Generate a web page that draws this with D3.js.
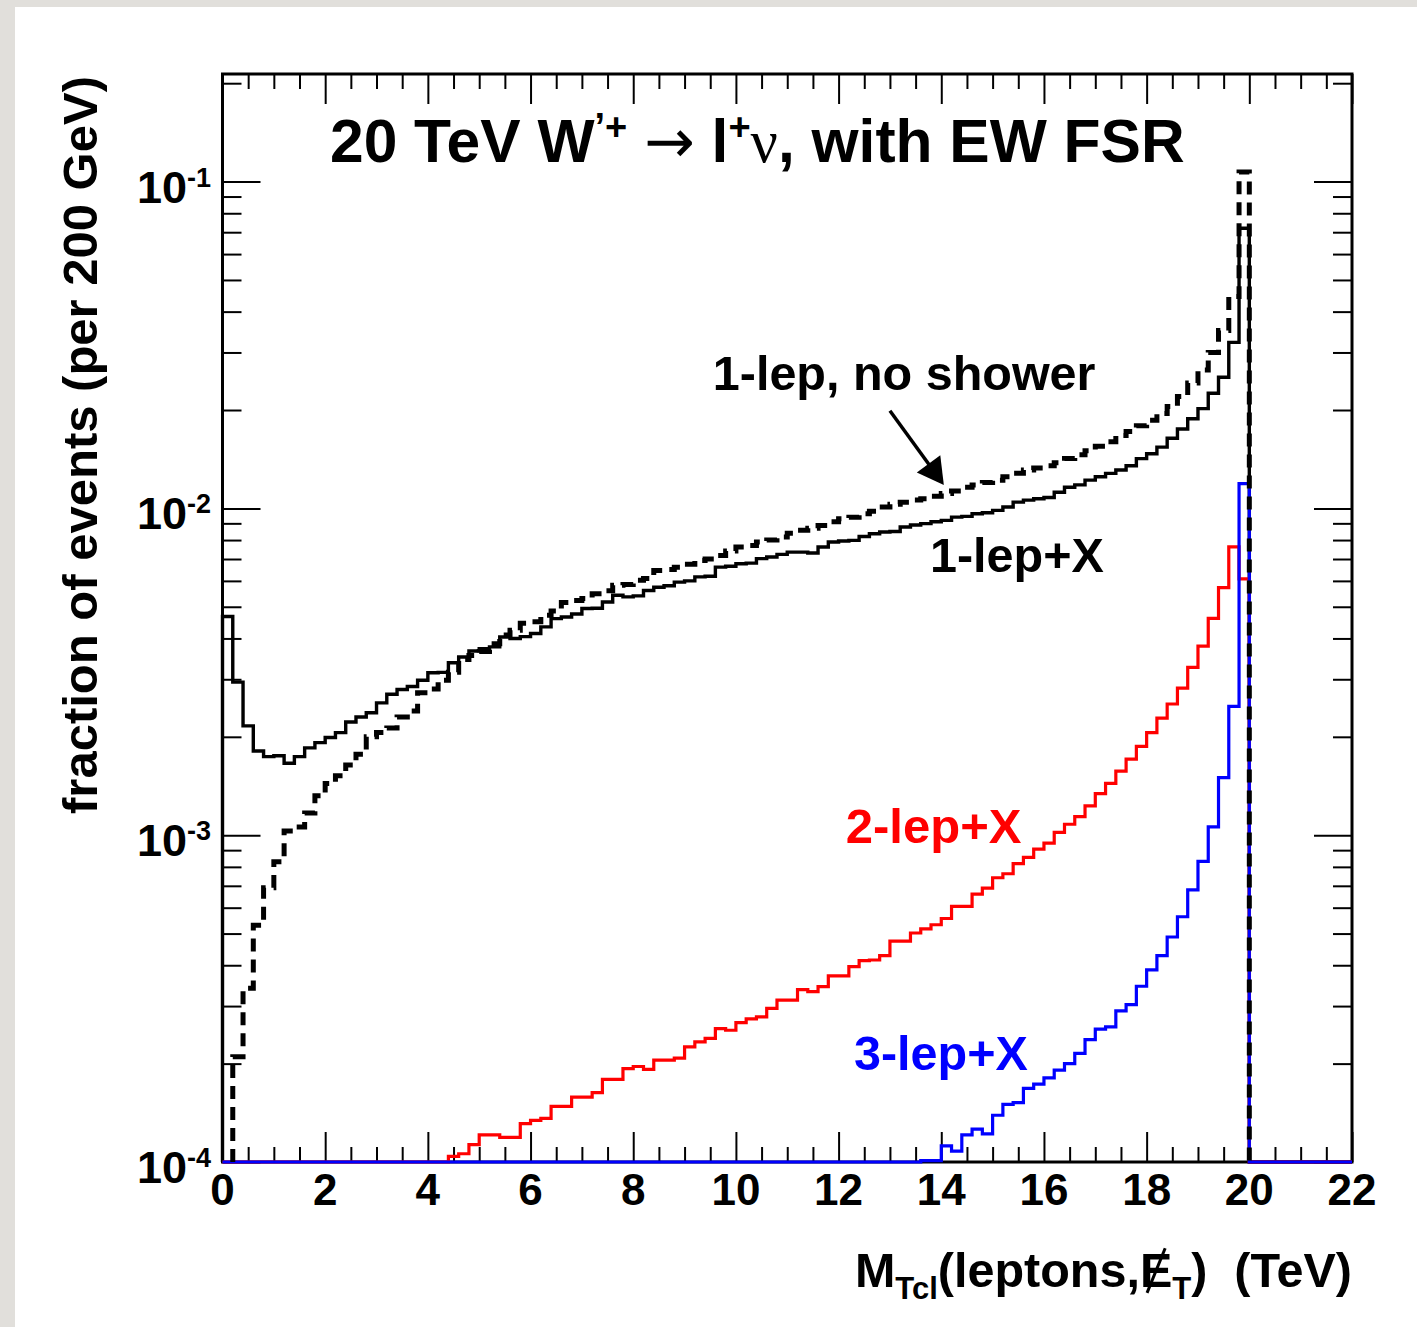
<!DOCTYPE html>
<html>
<head>
<meta charset="utf-8">
<script src="https://cdn.jsdelivr.net/npm/d3@7"></script>
<style>
  html, body { margin: 0; padding: 0; background: #ffffff; }
  svg { display: block; }
  text { font-family: "Liberation Sans", Arial, Helvetica, sans-serif; font-weight: bold; }
</style>
</head>
<body>
<svg id="chart" width="1417" height="1327"></svg>
<script>
// Binning of the transverse cluster mass histograms (TeV), 200 GeV per bin
const binLow = 0;
const binHigh = 22;
const binCount = 110;

// Axis ticks
const xMajorTicks = [0, 2, 4, 6, 8, 10, 12, 14, 16, 18, 20, 22];
const yDecadeExponents = [-1, -2, -3, -4];

// Fraction of events per bin: 1 lepton + anything (solid black)
const oneLepX = [
  4.67e-3, 2.94e-3, 2.16e-3, 1.81e-3, 1.74e-3, 1.75e-3, 1.66e-3, 1.74e-3, 1.85e-3, 1.92e-3,
  1.99e-3, 2.06e-3, 2.22e-3, 2.30e-3, 2.37e-3, 2.54e-3, 2.70e-3, 2.79e-3, 2.85e-3, 2.98e-3,
  3.14e-3, 3.15e-3, 3.37e-3, 3.51e-3, 3.66e-3, 3.72e-3, 3.77e-3, 4.04e-3, 4.00e-3, 4.05e-3,
  4.14e-3, 4.34e-3, 4.60e-3, 4.65e-3, 4.75e-3, 4.94e-3, 4.95e-3, 5.17e-3, 5.42e-3, 5.36e-3,
  5.40e-3, 5.61e-3, 5.74e-3, 5.80e-3, 5.95e-3, 6.00e-3, 6.17e-3, 6.20e-3, 6.61e-3, 6.65e-3,
  6.77e-3, 6.80e-3, 7.02e-3, 7.10e-3, 7.23e-3, 7.35e-3, 7.35e-3, 7.30e-3, 7.62e-3, 7.89e-3,
  7.95e-3, 7.98e-3, 8.20e-3, 8.36e-3, 8.47e-3, 8.50e-3, 8.77e-3, 8.90e-3, 8.98e-3, 9.10e-3,
  9.19e-3, 9.40e-3, 9.45e-3, 9.63e-3, 9.70e-3, 9.86e-3, 1.01e-2, 1.045e-2, 1.06e-2, 1.07e-2,
  1.08e-2, 1.12e-2, 1.16e-2, 1.18e-2, 1.22e-2, 1.25e-2, 1.28e-2, 1.31e-2, 1.35e-2, 1.42e-2,
  1.47e-2, 1.54e-2, 1.64e-2, 1.75e-2, 1.88e-2, 2.02e-2, 2.25e-2, 2.52e-2, 3.22e-2, 7.20e-2,
  0, 0, 0, 0, 0, 0, 0, 0, 0, 0
];

// 1 lepton, no shower (dashed black)
const oneLepNoShower = [
  0, 2.1e-4, 3.4e-4, 5.3e-4, 6.9e-4, 8.3e-4, 1.03e-3, 1.06e-3, 1.17e-3, 1.32e-3,
  1.44e-3, 1.52e-3, 1.64e-3, 1.77e-3, 2.00e-3, 2.06e-3, 2.13e-3, 2.30e-3, 2.40e-3, 2.73e-3,
  2.80e-3, 2.98e-3, 3.15e-3, 3.45e-3, 3.55e-3, 3.65e-3, 3.85e-3, 4.10e-3, 4.24e-3, 4.45e-3,
  4.50e-3, 4.71e-3, 4.85e-3, 5.15e-3, 5.23e-3, 5.30e-3, 5.48e-3, 5.60e-3, 5.82e-3, 5.85e-3,
  6.03e-3, 6.10e-3, 6.46e-3, 6.50e-3, 6.61e-3, 6.75e-3, 6.93e-3, 7.00e-3, 7.18e-3, 7.40e-3,
  7.62e-3, 7.70e-3, 7.89e-3, 8.00e-3, 8.17e-3, 8.40e-3, 8.57e-3, 8.70e-3, 8.87e-3, 9.10e-3,
  9.30e-3, 9.40e-3, 9.63e-3, 9.80e-3, 1.01e-2, 1.03e-2, 1.045e-2, 1.06e-2, 1.07e-2, 1.09e-2,
  1.11e-2, 1.13e-2, 1.16e-2, 1.18e-2, 1.20e-2, 1.22e-2, 1.25e-2, 1.28e-2, 1.31e-2, 1.33e-2,
  1.35e-2, 1.38e-2, 1.42e-2, 1.46e-2, 1.50e-2, 1.55e-2, 1.60e-2, 1.67e-2, 1.72e-2, 1.79e-2,
  1.86e-2, 1.95e-2, 2.05e-2, 2.20e-2, 2.42e-2, 2.65e-2, 3.00e-2, 3.50e-2, 4.45e-2, 1.07e-1,
  0, 0, 0, 0, 0, 0, 0, 0, 0, 0
];

// 2 leptons + anything (red)
const twoLepX = [
  0, 0, 0, 0, 0, 0, 0, 0, 0, 0,
  0, 0, 0, 0, 0, 0, 0, 0, 0, 0,
  0, 0, 1.04e-4, 1.06e-4, 1.13e-4, 1.21e-4, 1.21e-4, 1.19e-4, 1.19e-4, 1.31e-4,
  1.34e-4, 1.36e-4, 1.48e-4, 1.48e-4, 1.58e-4, 1.58e-4, 1.63e-4, 1.79e-4, 1.79e-4, 1.93e-4,
  1.96e-4, 1.92e-4, 2.05e-4, 2.05e-4, 2.08e-4, 2.25e-4, 2.33e-4, 2.39e-4, 2.56e-4, 2.53e-4,
  2.67e-4, 2.74e-4, 2.78e-4, 2.95e-4, 3.13e-4, 3.13e-4, 3.37e-4, 3.32e-4, 3.44e-4, 3.71e-4,
  3.71e-4, 3.96e-4, 4.13e-4, 4.15e-4, 4.28e-4, 4.74e-4, 4.74e-4, 5.02e-4, 5.17e-4, 5.32e-4,
  5.56e-4, 6.06e-4, 6.06e-4, 6.60e-4, 6.89e-4, 7.41e-4, 7.62e-4, 8.19e-4, 8.55e-4, 9.06e-4,
  9.46e-4, 1.02e-3, 1.08e-3, 1.14e-3, 1.23e-3, 1.34e-3, 1.44e-3, 1.57e-3, 1.71e-3, 1.87e-3,
  2.06e-3, 2.28e-3, 2.52e-3, 2.82e-3, 3.26e-3, 3.79e-3, 4.61e-3, 5.72e-3, 7.63e-3, 6.09e-3,
  0, 0, 0, 0, 0, 0, 0, 0, 0, 0
];

// 3 leptons + anything (blue)
const threeLepX = [
  0, 0, 0, 0, 0, 0, 0, 0, 0, 0,
  0, 0, 0, 0, 0, 0, 0, 0, 0, 0,
  0, 0, 0, 0, 0, 0, 0, 0, 0, 0,
  0, 0, 0, 0, 0, 0, 0, 0, 0, 0,
  0, 0, 0, 0, 0, 0, 0, 0, 0, 0,
  0, 0, 0, 0, 0, 0, 0, 0, 0, 0,
  0, 0, 0, 0, 0, 0, 0, 0, 1.01e-4, 1.01e-4,
  1.12e-4, 1.08e-4, 1.21e-4, 1.26e-4, 1.22e-4, 1.39e-4, 1.50e-4, 1.52e-4, 1.68e-4, 1.73e-4,
  1.81e-4, 1.91e-4, 2.00e-4, 2.15e-4, 2.37e-4, 2.55e-4, 2.59e-4, 2.90e-4, 3.03e-4, 3.45e-4,
  3.87e-4, 4.28e-4, 4.88e-4, 5.63e-4, 6.80e-4, 8.31e-4, 1.06e-3, 1.50e-3, 2.48e-3, 1.19e-2,
  0, 0, 0, 0, 0, 0, 0, 0, 0, 0
];

const svg = d3.select('#chart');
const W = 1417, H = 1327;

// Page: grey surround with a white sheet
svg.append('rect').attr('width', W).attr('height', H).attr('fill', '#e1dfdb');
svg.append('rect').attr('x', 15).attr('y', 7).attr('width', W - 15).attr('height', H - 7).attr('fill', '#ffffff');

const frame = { left: 222.5, right: 1352, top: 74, bottom: 1162 };
const yMin = 1e-4, yMax = 0.2134;

const x = d3.scaleLinear().domain([binLow, binHigh]).range([frame.left, frame.right]);
const y = d3.scaleLog().domain([yMin, yMax]).range([frame.bottom, frame.top]);
const binW = (binHigh - binLow) / binCount;

// Frame
svg.append('rect')
  .attr('x', frame.left).attr('y', frame.top)
  .attr('width', frame.right - frame.left).attr('height', frame.bottom - frame.top)
  .attr('fill', 'none').attr('stroke', '#000').attr('stroke-width', 3);

// Tick helpers
const xMinorTicks = d3.range(binLow, binHigh + 0.001, 0.5).filter(v => Math.abs(v / 2 - Math.round(v / 2)) > 1e-6);
const yMajorTicks = yDecadeExponents.map(e => Math.pow(10, e));
const yMinorTicks = [];
[-4, -3, -2, -1].forEach(e => {
  for (let k = 2; k <= 9; k++) {
    const v = k * Math.pow(10, e);
    if (v <= yMax) yMinorTicks.push(v);
  }
});

function drawAxis(axis, transform) {
  const g = svg.append('g').attr('transform', transform).call(axis);
  g.select('.domain').remove();
  g.selectAll('.tick line').attr('stroke', '#000').attr('stroke-width', 2);
  g.selectAll('.tick text').remove();
  return g;
}

drawAxis(d3.axisBottom(x).tickValues(xMajorTicks).tickSize(-30), `translate(0,${frame.bottom})`);
drawAxis(d3.axisBottom(x).tickValues(xMinorTicks).tickSize(-15), `translate(0,${frame.bottom})`);
drawAxis(d3.axisTop(x).tickValues(xMajorTicks).tickSize(-30), `translate(0,${frame.top})`);
drawAxis(d3.axisTop(x).tickValues(xMinorTicks).tickSize(-15), `translate(0,${frame.top})`);
drawAxis(d3.axisLeft(y).tickValues(yMajorTicks).tickSize(-38), `translate(${frame.left},0)`);
drawAxis(d3.axisLeft(y).tickValues(yMinorTicks).tickSize(-19), `translate(${frame.left},0)`);
drawAxis(d3.axisRight(y).tickValues(yMajorTicks).tickSize(-38), `translate(${frame.right},0)`);
drawAxis(d3.axisRight(y).tickValues(yMinorTicks).tickSize(-19), `translate(${frame.right},0)`);

// X tick labels
svg.append('g').selectAll('text').data(xMajorTicks).join('text')
  .attr('x', d => x(d)).attr('y', 1205)
  .attr('text-anchor', 'middle').attr('font-size', 44).attr('fill', '#000')
  .text(d => d);

// Y tick labels 10^n
yDecadeExponents.forEach(e => {
  const t = svg.append('text')
    .attr('x', 211).attr('y', y(Math.pow(10, e)) + 21)
    .attr('text-anchor', 'end').attr('font-size', 45).attr('fill', '#000');
  t.append('tspan').text('10');
  t.append('tspan').attr('font-size', 27).attr('dy', -16).text('-' + (-e));
});

// Histogram outline as steps; empty bins sit on the lower edge of the frame
function stepPath(values, trim) {
  let first = 0, last = values.length - 1;
  if (trim) {
    while (first < values.length && !(values[first] > 0)) first++;
    while (last >= 0 && !(values[last] > 0)) last--;
  }
  const yv = v => (v > yMin ? y(v) : y(yMin));
  let p = `M${x(binLow + first * binW)},${y(yMin)}`;
  for (let i = first; i <= last; i++) {
    const x0 = x(binLow + i * binW), x1 = x(binLow + (i + 1) * binW);
    p += `L${x0},${yv(values[i])}L${x1},${yv(values[i])}`;
  }
  p += `L${x(binLow + (last + 1) * binW)},${y(yMin)}`;
  return p;
}

const series = [
  { values: oneLepX, color: '#000000', width: 3.4, dash: null, trim: false },
  { values: twoLepX, color: '#ff0000', width: 3.2, dash: null, trim: false },
  { values: threeLepX, color: '#0000ff', width: 3.2, dash: null, trim: false },
  { values: oneLepNoShower, color: '#000000', width: 5, dash: '13,8', trim: true }
];

series.forEach(s => {
  svg.append('path')
    .attr('d', stepPath(s.values, s.trim))
    .attr('fill', 'none')
    .attr('stroke', s.color)
    .attr('stroke-width', s.width)
    .attr('stroke-linejoin', 'miter')
    .attr('stroke-dasharray', s.dash);
});

// Title
const serif = '"Liberation Serif", "DejaVu Serif", "Times New Roman", serif';
const title = svg.append('text').attr('x', 330).attr('y', 162).attr('font-size', 60.5).attr('fill', '#000');
title.append('tspan').text('20 TeV W');
title.append('tspan').attr('font-size', 38).attr('dy', -22).text('\u2019+');
title.append('tspan').attr('dy', 22).text('\u00a0');
title.append('tspan').attr('font-family', '"DejaVu Sans", sans-serif').attr('font-weight', 'normal').text('\u2192');
title.append('tspan').text('\u00a0l');
title.append('tspan').attr('font-size', 38).attr('dy', -22).text('+');
title.append('tspan').attr('dy', 22).attr('font-family', serif).attr('font-weight', 'normal').text('\u03bd');
title.append('tspan').text(', with EW FSR');

// Curve annotations
svg.append('text').attr('x', x(9.55)).attr('y', y(2.30e-2)).attr('font-size', 48.5).attr('fill', '#000')
  .text('1-lep, no shower');
svg.append('text').attr('x', x(13.78)).attr('y', y(6.37e-3)).attr('font-size', 48.5).attr('fill', '#000')
  .text('1-lep+X');
svg.append('text').attr('x', x(12.14)).attr('y', y(9.45e-4)).attr('font-size', 49).attr('fill', '#ff0000')
  .text('2-lep+X');
svg.append('text').attr('x', x(12.30)).attr('y', y(1.91e-4)).attr('font-size', 48.5).attr('fill', '#0000ff')
  .text('3-lep+X');

// Arrow pointing at the no-shower curve
const a0 = [x(13.0), y(1.99e-2)], a1 = [x(14.05), y(1.18e-2)];
const dx = a1[0] - a0[0], dy = a1[1] - a0[1], len = Math.hypot(dx, dy);
const ux = dx / len, uy = dy / len, headL = 26, headHW = 14.5;
const bx = a1[0] - ux * headL, by = a1[1] - uy * headL;
svg.append('line').attr('x1', a0[0]).attr('y1', a0[1]).attr('x2', bx + ux * 2).attr('y2', by + uy * 2)
  .attr('stroke', '#000').attr('stroke-width', 3.5);
svg.append('path')
  .attr('d', `M${a1[0]},${a1[1]}L${bx - uy * headHW},${by + ux * headHW}L${bx + uy * headHW},${by - ux * headHW}Z`)
  .attr('fill', '#000');

// Axis titles
svg.append('text')
  .attr('transform', `translate(97,${frame.top + 2}) rotate(-90)`)
  .attr('text-anchor', 'end').attr('font-size', 49).attr('fill', '#000')
  .text('fraction of events (per 200 GeV)');

const xtSize = 48.5, xtBase = 1287;
const xt = svg.append('text').attr('x', frame.right).attr('y', xtBase)
  .attr('text-anchor', 'end').attr('font-size', xtSize).attr('fill', '#000');
xt.append('tspan').text('M');
xt.append('tspan').attr('font-size', 31).attr('dy', 12).text('Tcl');
xt.append('tspan').attr('dy', -12).text('(leptons,');
xt.append('tspan').text('E');
xt.append('tspan').attr('font-size', 31).attr('dy', 12).text('T');
xt.append('tspan').attr('dy', -12).text(')\u00a0\u00a0(TeV)');

// Slash across the E of the missing transverse energy symbol
const eBox = xt.node().getExtentOfChar(13);
svg.append('line')
  .attr('x1', eBox.x + eBox.width * 0.78).attr('y1', xtBase - 0.80 * xtSize)
  .attr('x2', eBox.x + eBox.width * 0.22).attr('y2', xtBase + 0.12 * xtSize)
  .attr('stroke', '#000').attr('stroke-width', 3);
</script>
</body>
</html>
